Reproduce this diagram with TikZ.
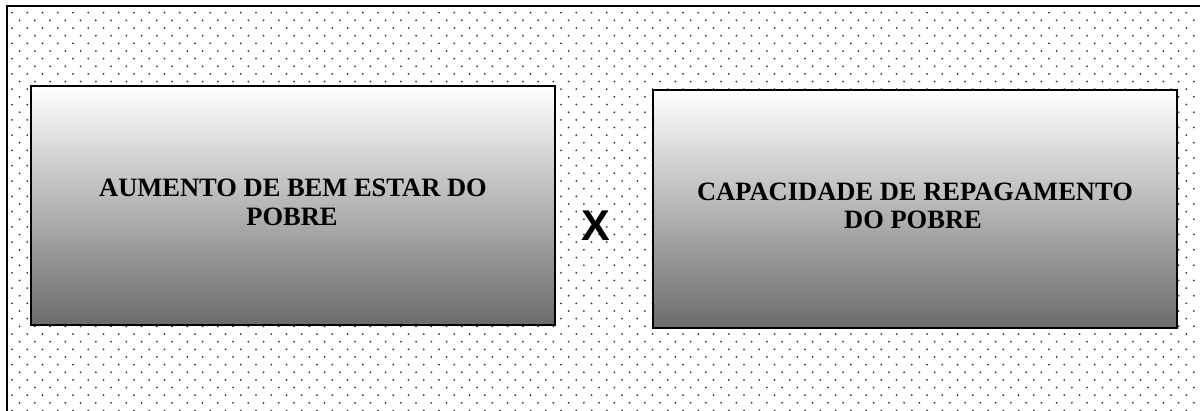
\documentclass[tikz,border=0pt]{standalone}
\usepackage{fontspec}
\setmainfont{Liberation Serif}
\newfontfamily\xsans{Liberation Sans}
\begin{document}
\begin{tikzpicture}[x=1pt,y=-1pt,
  framebox/.style={draw=black,line width=2pt},
  gradbox/.style={draw=black,line width=2pt,top color=white,bottom color=black!58,shading angle=0},
  caption/.style={font=\bfseries\fontsize{26.5}{29}\selectfont,anchor=base,inner sep=0pt},
  dot/.style={fill=black!80}
]
\useasboundingbox (0,0) rectangle (1200,410);
\clip (0,0) rectangle (1200,410);
\fill[white] (0,0) rectangle (1200,410);
% dotted background, staggered rows
\foreach \j in {0,...,52}{
  \pgfmathsetmacro{\yy}{12.7+7.65*\j}
  \pgfmathsetmacro{\xo}{mod(\j,2)==0 ? 12 : 19.6}
  \foreach \i in {0,...,78}{
    \fill[dot] ({\xo+15.25*\i},\yy) circle (1.0);
  }
}
% outer frame
\draw[framebox] (6.5,6) rectangle (1215,425);
% the two boxes
\node[gradbox,minimum width=524,minimum height=239,inner sep=0pt] (welfare) at (293,205.5) {};
\node[gradbox,minimum width=524,minimum height=238,inner sep=0pt] (repay) at (915,209) {};
% box captions
\node[caption] (w1) at (293,196) {AUMENTO DE BEM ESTAR DO};
\node[caption] (w2) at (292,225) {POBRE};
\node[caption] (r1) at (915,200) {CAPACIDADE DE REPAGAMENTO};
\node[caption] (r2) at (913,228) {DO POBRE};
% versus sign
\node[font=\xsans\bfseries\fontsize{43}{43}\selectfont,inner sep=0pt] (vs) at (596,226) {X};
\end{tikzpicture}
\end{document}
